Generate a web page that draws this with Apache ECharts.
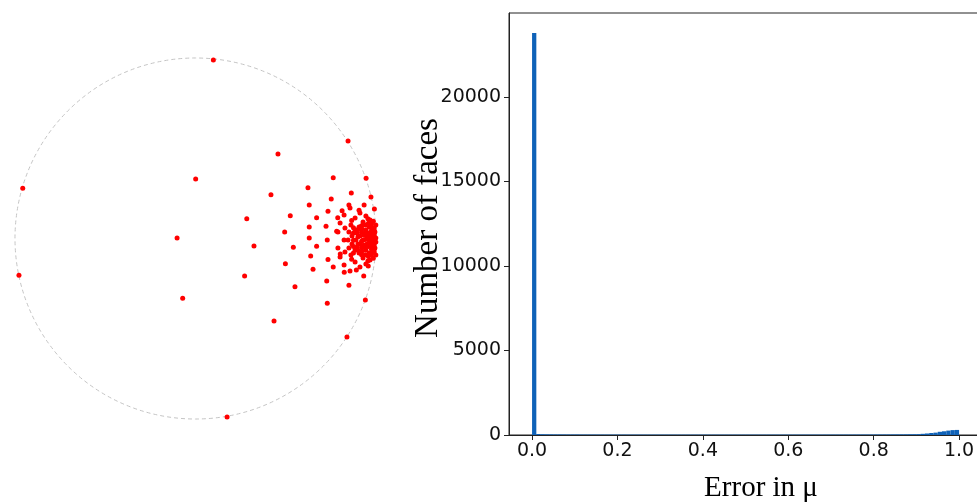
<!DOCTYPE html>
<html>
<head>
<meta charset="utf-8">
<script src="https://cdn.jsdelivr.net/npm/echarts@6/dist/echarts.min.js"></script>
<style>
html, body { margin: 0; padding: 0; background: #fff; }
#chart { width: 977px; height: 504px; }
</style>
</head>
<body>
<div id="chart"></div>
<script>
// points in the unit disk (x, y), y up
var diskPoints = [
    [0.099, 0.989], [-0.957, 0.278], [-0.978, -0.204], [0.175, -0.989],
    [0.001, 0.330], [0.284, 0.110], [-0.102, 0.003], [0.272, -0.208], [-0.071, -0.331],
    [0.845, 0.540], [0.839, -0.546], [0.457, 0.468], [0.435, -0.457], [0.324, -0.042],
    [0.763, 0.337], [0.623, 0.281], [0.418, 0.243], [0.945, 0.334], [0.863, 0.252],
    [0.972, 0.230], [0.752, 0.219], [0.630, 0.186], [0.525, 0.126], [0.734, 0.151],
    [0.812, 0.154], [0.850, 0.186], [0.906, 0.156], [0.934, 0.186], [0.991, 0.163],
    [0.630, 0.064], [0.671, 0.115], [0.788, 0.115], [0.494, 0.036], [0.542, -0.049],
    [0.630, 0.003], [0.671, -0.043], [0.723, 0.068], [0.730, -0.008], [0.734, -0.117],
    [0.638, -0.097], [0.498, -0.140], [0.651, -0.171], [0.551, -0.267], [0.727, -0.235],
    [0.730, -0.359], [0.850, -0.259], [0.941, -0.341], [0.763, -0.158], [0.824, -0.187],
    [0.891, -0.175], [0.932, -0.208], [0.957, -0.152], [0.802, -0.086], [0.782, 0.040],
    [0.845, -0.008], [0.850, 0.036], [0.861, 0.075], [0.884, 0.114], [0.911, 0.141],
    [0.850, -0.053], [0.861, -0.091], [0.884, -0.130], [0.911, -0.158],
    [0.889, -0.008], [0.895, 0.030], [0.906, 0.064], [0.928, 0.091],
    [0.895, -0.047], [0.906, -0.080], [0.928, -0.108],
    [0.928, -0.008], [0.933, 0.019], [0.944, 0.047], [0.961, 0.064],
    [0.933, -0.036], [0.944, -0.064], [0.961, -0.080],
    [0.961, -0.008], [0.967, 0.014], [0.978, 0.030], [0.967, -0.030], [0.978, -0.047],
    [0.983, -0.008], [0.989, 0.008], [0.989, -0.025], [0.999, 0.003], [0.999, -0.019],
    [0.789, 0.036], [0.801, 0.086], [0.823, 0.130], [0.856, 0.169],
    [0.789, -0.053], [0.801, -0.102], [0.823, -0.147], [0.856, -0.180],
    [0.994, 0.036], [0.994, -0.053], [0.978, 0.058], [0.978, -0.075],
    [0.950, 0.014], [0.950, -0.030], [0.911, 0.014], [0.911, -0.030],
    [0.867, 0.014], [0.867, -0.030], [0.823, -0.008], [0.922, 0.053], [0.922, -0.069],
    [0.884, 0.047], [0.884, -0.064], [0.828, 0.058], [0.828, -0.075],
    [0.999, 0.075], [0.999, -0.091], [0.967, 0.102], [0.967, -0.119],
    [0.944, 0.125], [0.944, -0.141],
    [0.990, 0.060], [0.990, 0.045], [0.990, 0.020], [0.990, -0.035], [0.990, -0.060], [0.990, -0.075],
    [0.975, 0.080], [0.975, 0.045], [0.975, 0.000], [0.975, -0.015], [0.975, -0.060], [0.975, -0.090],
    [0.958, 0.085], [0.958, 0.030], [0.958, 0.000], [0.958, -0.045], [0.958, -0.100],
    [0.940, 0.075], [0.940, 0.030], [0.940, -0.005], [0.940, -0.050], [0.940, -0.090],
    [0.920, 0.070], [0.920, 0.035], [0.920, -0.015], [0.920, -0.050], [0.920, -0.090],
    [0.900, 0.050], [0.900, 0.010], [0.900, -0.030], [0.900, -0.065],
    [0.875, 0.030], [0.875, -0.010], [0.875, -0.045], [0.875, 0.060], [0.875, -0.080],
    [0.985, 0.095], [0.985, -0.110], [0.955, 0.110], [0.955, -0.125], [0.865, 0.100], [0.865, -0.115]
];
var diskRadius = 1;

// histogram: 100 bins of width 0.01 starting at 0
var binStart = 0;
var binWidth = 0.01;
var faceCounts = [
    23780, 60, 45, 40, 38, 35, 35, 32, 30, 30,
    30, 28, 28, 27, 27, 26, 26, 25, 25, 25,
    25, 25, 24, 24, 24, 24, 23, 23, 23, 23,
    23, 23, 23, 22, 22, 22, 22, 22, 22, 22,
    22, 22, 22, 22, 22, 22, 22, 22, 22, 22,
    22, 22, 22, 22, 22, 23, 23, 23, 23, 23,
    23, 23, 23, 24, 24, 24, 24, 24, 25, 25,
    25, 25, 26, 26, 26, 27, 27, 28, 28, 29,
    30, 31, 32, 33, 35, 36, 38, 40, 43, 46,
    50, 70, 90, 120, 140, 190, 220, 260, 290, 300
];
var errorTicks = [0, 0.2, 0.4, 0.6, 0.8, 1.0];
var countTicks = [0, 5000, 10000, 15000, 20000];

var myChart = echarts.init(document.getElementById('chart'));
var axisColor = '#222';
var tickFont = 'DejaVu Sans';
var labelFont = 'Liberation Serif';

var histData = faceCounts.map(function (c, i) {
    return [binStart + i * binWidth, c];
});

var option = {
    animation: false,
    grid: [
        { left: 0, top: 49, width: 378, height: 379, outerBoundsMode: 'none' },
        {
            left: 509, top: 13, width: 474, height: 422, outerBoundsMode: 'none',
            show: true, borderColor: axisColor, borderWidth: 1
        }
    ],
    xAxis: [
        { gridIndex: 0, type: 'value', min: -1.083, max: 1.011, show: false },
        {
            gridIndex: 1, type: 'value', min: -0.054, max: 1.056,
            splitLine: { show: false },
            axisLine: { show: true, onZero: false, lineStyle: { color: axisColor } },
            axisTick: { show: true, length: 5, customValues: errorTicks, lineStyle: { color: axisColor } },
            axisLabel: {
                customValues: errorTicks,
                formatter: function (v) { return v.toFixed(1); },
                fontFamily: tickFont, fontSize: 19, color: '#111', margin: 7
            },
            name: 'Error in μ',
            nameLocation: 'middle',
            nameGap: 39,
            nameMoveOverlap: false,
            nameTextStyle: { fontFamily: labelFont, fontSize: 29, color: '#000', padding: [0, 0, 0, 30] }
        }
    ],
    yAxis: [
        { gridIndex: 0, type: 'value', min: -1.05, max: 1.05, show: false },
        {
            gridIndex: 1, type: 'value', min: 0, max: 24970,
            splitLine: { show: false },
            axisLine: { show: true, onZero: false, lineStyle: { color: axisColor } },
            axisTick: { show: true, length: 5, customValues: countTicks, lineStyle: { color: axisColor } },
            axisLabel: {
                customValues: countTicks,
                formatter: function (v) { return String(v); },
                fontFamily: tickFont, fontSize: 19, color: '#111', margin: 8
            },
            name: 'Number of faces',
            nameLocation: 'middle',
            nameGap: 64,
            nameRotate: 90,
            nameMoveOverlap: false,
            nameTextStyle: { fontFamily: labelFont, fontSize: 33, color: '#000', padding: [0, 8, 0, 0] }
        }
    ],
    series: [
        {
            type: 'custom',
            xAxisIndex: 0, yAxisIndex: 0,
            clip: true,
            data: [[0, 0, diskRadius]],
            renderItem: function (params, api) {
                var c = api.coord([api.value(0), api.value(1)]);
                var r = api.size([api.value(2), 0])[0];
                return {
                    type: 'circle',
                    shape: { cx: c[0], cy: c[1], r: r },
                    style: { fill: 'none', stroke: '#c4c4c4', lineWidth: 1, lineDash: [4, 3] }
                };
            },
            z: 1
        },
        {
            type: 'scatter',
            xAxisIndex: 0, yAxisIndex: 0,
            symbolSize: 5,
            itemStyle: { color: '#ff0000', opacity: 1 },
            data: diskPoints,
            z: 3
        },
        {
            type: 'custom',
            xAxisIndex: 1, yAxisIndex: 1,
            data: histData,
            renderItem: function (params, api) {
                var p0 = api.coord([api.value(0), api.value(1)]);
                var p1 = api.coord([api.value(0) + binWidth, 0]);
                return {
                    type: 'rect',
                    shape: { x: p0[0], y: p0[1], width: p1[0] - p0[0], height: p1[1] - p0[1] },
                    style: { fill: '#0f62b8' }
                };
            }
        }
    ]
};
myChart.setOption(option);
</script>
</body>
</html>
